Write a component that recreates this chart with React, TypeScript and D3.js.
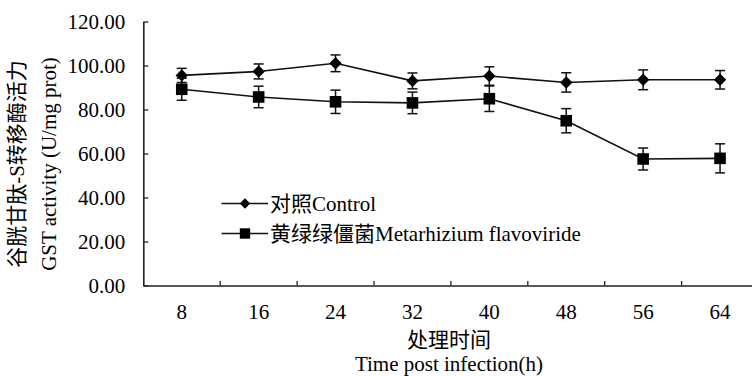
import React, { useEffect, useRef } from "react";
import * as d3 from "d3";

// 处理时间 (h)
const hours = ["8", "16", "24", "32", "40", "48", "56", "64"];
// 对照 Control
const controlMean = [95.5, 97.3, 101.0, 93.0, 95.2, 92.3, 93.5, 93.5];
const controlErr = [3.2, 3.4, 3.8, 3.6, 4.2, 4.4, 4.5, 4.2];
// 黄绿绿僵菌 Metarhizium flavoviride
const fungusMean = [89.2, 85.7, 83.5, 83.0, 84.9, 74.9, 57.5, 57.8];
const fungusErr = [5.0, 4.9, 5.3, 4.9, 5.8, 5.5, 5.0, 6.6];

const yTicks = [0, 20, 40, 60, 80, 100, 120];

const seriesNames = ["对照Control", "黄绿绿僵菌Metarhizium flavoviride"];

const W = 752;
const H = 376;
const FONT = "'Liberation Serif', 'Times New Roman', 'Noto Sans CJK SC', serif";
const FS = 21;

const diamond = (s: number) => `M0,${-s}L${s},0L0,${s}L${-s},0Z`;
const square = (s: number) => `M${-s},${-s}H${s}V${s}H${-s}Z`;

const App = () => {
  const svgRef = useRef<SVGSVGElement>(null);

  useEffect(() => {
    const svg = d3.select(svgRef.current);
    svg.selectAll("*").remove();

    const x = d3.scaleBand().domain(hours).range([143.3, 758.5]).padding(0);
    const y = d3.scaleLinear().domain([0, 120]).range([285.5, 21.5]);
    const cx = (d: string) => (x(d) as number) + x.bandwidth() / 2;

    const series = [
      { mean: controlMean, err: controlErr, shape: diamond(6.2) },
      { mean: fungusMean, err: fungusErr, shape: square(5.8) },
    ];

    // eixo Y
    const yAxis = svg
      .append("g")
      .attr("transform", "translate(143.3,0)")
      .call(
        d3
          .axisLeft(y)
          .tickValues(yTicks)
          .tickFormat(d3.format(".2f"))
          .tickSizeInner(-5)
          .tickSizeOuter(0)
          .tickPadding(18)
      );
    yAxis.select(".domain").attr("stroke", "#222").attr("stroke-width", 1.6);
    yAxis.selectAll(".tick line").attr("stroke", "#222").attr("stroke-width", 1.3);
    yAxis
      .selectAll("text")
      .attr("font-family", FONT)
      .attr("font-size", FS)
      .attr("fill", "#000");

    // eixo X
    const xAxis = svg
      .append("g")
      .attr("transform", "translate(0,285.5)")
      .call(d3.axisBottom(x).tickSizeInner(0).tickSizeOuter(0).tickPadding(19));
    xAxis.select(".domain").attr("stroke", "#222").attr("stroke-width", 1.6);
    xAxis
      .selectAll("text")
      .attr("font-family", FONT)
      .attr("font-size", FS)
      .attr("fill", "#000");
    xAxis
      .selectAll("line.bound")
      .data(hours.slice(1))
      .enter()
      .append("line")
      .attr("class", "bound")
      .attr("x1", (d) => x(d) as number)
      .attr("x2", (d) => x(d) as number)
      .attr("y1", 0)
      .attr("y2", -4.5)
      .attr("stroke", "#222")
      .attr("stroke-width", 1.3);

    // títulos
    svg
      .append("text")
      .attr("x", 449)
      .attr("y", 347)
      .attr("text-anchor", "middle")
      .attr("font-family", FONT)
      .attr("font-size", FS)
      .text("处理时间");
    svg
      .append("text")
      .attr("x", 449)
      .attr("y", 370.5)
      .attr("text-anchor", "middle")
      .attr("font-family", FONT)
      .attr("font-size", FS)
      .text("Time post infection(h)");

    const yTitle = [
      { t: "谷胱甘肽-S转移酶活力", x: 17 },
      { t: "GST activity (U/mg prot)", x: 49 },
    ];
    yTitle.forEach((l) => {
      svg
        .append("text")
        .attr("transform", `translate(${l.x},164) rotate(-90)`)
        .attr("text-anchor", "middle")
        .attr("dominant-baseline", "central")
        .attr("font-family", FONT)
        .attr("font-size", FS)
        .text(l.t);
    });

    // linhas, barras de erro e marcadores
    series.forEach((s) => {
      const pts = hours.map((h, i) => ({ h, v: s.mean[i], e: s.err[i] }));
      const line = d3
        .line<{ h: string; v: number }>()
        .x((d) => cx(d.h))
        .y((d) => y(d.v));
      svg
        .append("path")
        .attr("d", line(pts))
        .attr("fill", "none")
        .attr("stroke", "#111")
        .attr("stroke-width", 1.6);

      const g = svg
        .append("g")
        .selectAll("g")
        .data(pts)
        .enter()
        .append("g");
      g.append("line")
        .attr("x1", (d) => cx(d.h))
        .attr("x2", (d) => cx(d.h))
        .attr("y1", (d) => y(d.v + d.e))
        .attr("y2", (d) => y(d.v - d.e))
        .attr("stroke", "#111")
        .attr("stroke-width", 1.5);
      [1, -1].forEach((k) => {
        g.append("line")
          .attr("x1", (d) => cx(d.h) - 5)
          .attr("x2", (d) => cx(d.h) + 5)
          .attr("y1", (d) => y(d.v + k * d.e))
          .attr("y2", (d) => y(d.v + k * d.e))
          .attr("stroke", "#111")
          .attr("stroke-width", 1.5);
      });
      g.append("path")
        .attr("transform", (d) => `translate(${cx(d.h)},${y(d.v)})`)
        .attr("d", s.shape)
        .attr("fill", "#000");
    });

    // legenda
    const legend = svg
      .selectAll("g.legend")
      .data(series)
      .enter()
      .append("g")
      .attr("class", "legend")
      .attr("transform", (_, i) => `translate(0,${203.5 + i * 30})`);
    legend
      .append("line")
      .attr("x1", 221.5)
      .attr("x2", 268)
      .attr("stroke", "#111")
      .attr("stroke-width", 1.6);
    legend
      .append("path")
      .attr("transform", "translate(245,0)")
      .attr("d", (d, i) => (i === 0 ? diamond(5.2) : square(5.2)))
      .attr("fill", "#000");
    legend
      .append("text")
      .attr("x", 270)
      .attr("dominant-baseline", "central")
      .attr("font-family", FONT)
      .attr("font-size", FS)
      .text((_, i) => seriesNames[i]);
  }, []);

  return (
    <svg
      ref={svgRef}
      width={W}
      height={H}
      style={{ position: "absolute", left: 0, top: 0, background: "#fff" }}
    ></svg>
  );
};

export default App;
